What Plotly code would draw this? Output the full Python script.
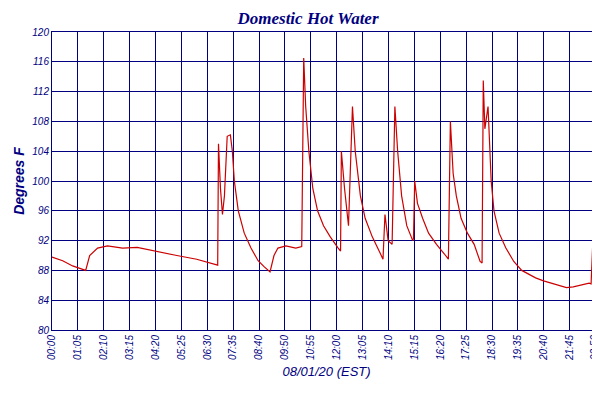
import plotly.graph_objects as go

# minutes since midnight and temperature readings (deg F)
minutes = [0, 27, 52, 78, 85, 95, 115, 140, 178, 215, 265, 315, 365, 402, 418, 420, 425, 430, 435, 442,
           450, 455, 460, 470, 485, 502, 520, 535, 550, 560, 570, 590, 615, 630, 635, 640, 648, 658, 670, 685,
           702, 722, 728, 730, 738, 748, 755, 758, 765, 778, 790, 808, 828, 835, 840, 848, 858, 865, 872, 882,
           895, 902, 910, 912, 915, 922, 935, 950, 970, 990, 1000, 1005, 1012, 1020, 1032, 1048, 1065, 1080,
           1085, 1088, 1092, 1100, 1108, 1115, 1128, 1145, 1165, 1185, 1202, 1220, 1240, 1260, 1278, 1298,
           1315, 1335, 1355, 1360, 1365, 1368, 1372, 1378, 1382]
temps = [89.8, 89.3, 88.6, 88.2, 88.0, 90.0, 91.0, 91.3, 91.0, 91.1, 90.5, 90.0, 89.5, 89.0, 88.7, 105.0,
         99.0, 95.5, 98.0, 106.0, 106.2, 104.0, 100.0, 96.0, 93.0, 91.0, 89.3, 88.5, 87.8, 90.0, 91.0, 91.3,
         91.0, 91.2, 116.5, 110.0, 104.0, 99.0, 96.0, 94.0, 92.5, 91.0, 90.6, 104.0, 99.0, 94.0, 106.0, 110.0,
         104.0, 98.0, 95.0, 92.5, 90.3, 89.5, 95.5, 92.0, 91.5, 110.0, 104.0, 98.0, 94.0, 93.0, 92.0, 92.3,
         100.0, 97.0, 95.0, 93.0, 91.5, 90.2, 89.5, 108.0, 101.0, 98.0, 95.0, 93.0, 91.5, 89.2, 89.0, 113.5,
         107.0, 110.0, 100.0, 96.0, 93.0, 91.0, 89.2, 88.0, 87.5, 87.0, 86.6, 86.3, 86.0, 85.7, 85.8, 86.1,
         86.3, 86.2, 94.0, 96.5, 93.0, 92.5, 91.0]

tick_labels = ["00:00", "01:05", "02:10", "03:15", "04:20", "05:25", "06:30", "07:35", "08:40", "09:50",
               "10:55", "12:00", "13:05", "14:10", "15:15", "16:20", "17:25", "18:30", "19:35", "20:40",
               "21:45", "23:50", "23:59"]
tick_vals = [i * 65.3 for i in range(21)] + [1370, 1380]

navy = "#000080"
font = dict(family="Liberation Sans", size=10, color=navy, style="italic")

fig = go.Figure()
fig.add_trace(go.Scatter(x=minutes, y=temps, mode="lines", name="Domestic Hot Water",
                         line=dict(color="#cc0000", width=1.2)))

fig.update_layout(
    width=600, height=400,
    margin=dict(l=44, r=7, t=24, b=78, autoexpand=False),
    paper_bgcolor="white", plot_bgcolor="white",
    title=dict(text="Domestic Hot Water", x=0.5, xanchor="center", y=0.99, yanchor="top",
               font=dict(family="Liberation Serif", size=17, color=navy, style="italic", weight="bold")),
    showlegend=True,
    legend=dict(orientation="h", x=0.5, xanchor="center", y=-0.2, yanchor="top",
                font=dict(family="Liberation Sans", size=11, color=navy, style="italic")),
    font=font,
)
fig.update_xaxes(range=[0, 1385], tickvals=tick_vals, ticktext=tick_labels, tickangle=-90,
                 showgrid=True, gridcolor=navy, gridwidth=1, showline=True, linecolor=navy,
                 mirror=True, zeroline=False, tickfont=font, automargin=False,
                 title=dict(text="08/01/20 (EST)", standoff=6,
                            font=dict(family="Liberation Sans", size=13, color=navy, style="italic")))
fig.update_yaxes(range=[80, 120], dtick=4, showgrid=True, gridcolor=navy, gridwidth=1,
                 showline=True, linecolor=navy, mirror=True, zeroline=False, tickfont=font,
                 automargin=False,
                 title=dict(text="Degrees F", standoff=4,
                            font=dict(family="Liberation Sans", size=14, color=navy, style="italic", weight="bold")))

fig.write_html("out.html")
